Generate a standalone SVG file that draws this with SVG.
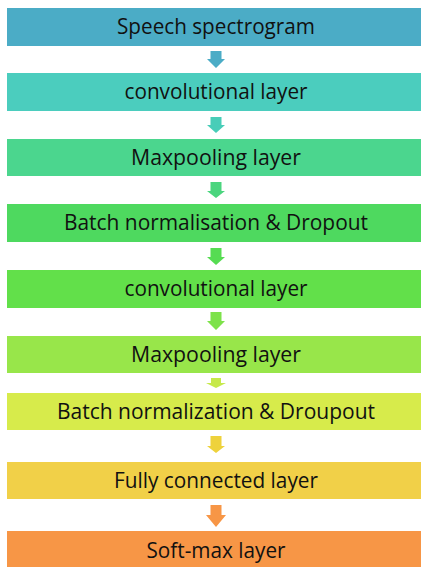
<svg xmlns="http://www.w3.org/2000/svg" width="421" height="567" viewBox="0 0 421 567">
  <style>
    .box text { font-family: "Open Sans", "Liberation Sans", sans-serif; font-size: 21.5px; fill: #111; text-anchor: middle; }
  </style>
  <rect width="421" height="567" fill="#ffffff"/>

  <g id="node-spectrogram" class="box">
    <rect x="7" y="8" width="418" height="38" fill="#4BACC6"/>
    <text x="216" y="34" textLength="198" lengthAdjust="spacingAndGlyphs">Speech spectrogram</text>
  </g>
  <g id="node-conv1" class="box">
    <rect x="7" y="73" width="418" height="38" fill="#4BCDBE"/>
    <text x="216" y="99" textLength="183" lengthAdjust="spacingAndGlyphs">convolutional layer</text>
  </g>
  <g id="node-pool1" class="box">
    <rect x="7" y="139" width="418" height="37" fill="#4BD68E"/>
    <text x="216" y="165" textLength="170" lengthAdjust="spacingAndGlyphs">Maxpooling layer</text>
  </g>
  <g id="node-bn1" class="box">
    <rect x="7" y="204" width="418" height="38" fill="#4ED95F"/>
    <text x="216" y="230" textLength="304" lengthAdjust="spacingAndGlyphs">Batch normalisation &amp; Dropout</text>
  </g>
  <g id="node-conv2" class="box">
    <rect x="7" y="270" width="418" height="38" fill="#62E04A"/>
    <text x="216" y="296" textLength="183" lengthAdjust="spacingAndGlyphs">convolutional layer</text>
  </g>
  <g id="node-pool2" class="box">
    <rect x="7" y="336" width="418" height="37" fill="#98E64A"/>
    <text x="216" y="362" textLength="170" lengthAdjust="spacingAndGlyphs">Maxpooling layer</text>
  </g>
  <g id="node-bn2" class="box">
    <rect x="7" y="393" width="418" height="37" fill="#D7EB4B"/>
    <text x="216" y="419" textLength="318" lengthAdjust="spacingAndGlyphs">Batch normalization &amp; Droupout</text>
  </g>
  <g id="node-fc" class="box">
    <rect x="7" y="462" width="418" height="37" fill="#F1D048"/>
    <text x="216" y="488" textLength="204" lengthAdjust="spacingAndGlyphs">Fully connected layer</text>
  </g>
  <g id="node-softmax" class="box">
    <rect x="7" y="531" width="418" height="38" fill="#F79646"/>
    <text x="216" y="558" textLength="139" lengthAdjust="spacingAndGlyphs">Soft-max layer</text>
  </g>

  <!-- block arrows between the stages -->
  <g id="connectors">
    <polygon fill="#4BACC6" points="210.5,51 221.5,51 221.5,59 225,59 216,68 207,59 210.5,59"/>
    <polygon fill="#48CDB8" points="210.5,117 221.5,117 221.5,125 225,125 216,133 207,125 210.5,125"/>
    <polygon fill="#4BD57E" points="210.5,182 221.5,182 221.5,191 225,191 216,198 207,191 210.5,191"/>
    <polygon fill="#56DC52" points="210.5,248 221.5,248 221.5,257 225,257 216,265 207,257 210.5,257"/>
    <polygon fill="#7DE24A" points="210.5,312 221.5,312 221.5,321 225,321 216,330 207,321 210.5,321"/>
    <polygon fill="#C6E94A" points="211,378 221,378 221,383 226,383 216,388 206,383 211,383"/>
    <polygon fill="#EED23C" points="210.5,436 221.5,436 221.5,446 225,446 216,453 207,446 210.5,446"/>
    <polygon fill="#F79646" points="210.5,505 221.5,505 221.5,515 226,515 216,527 206,515 210.5,515"/>
  </g>
</svg>
